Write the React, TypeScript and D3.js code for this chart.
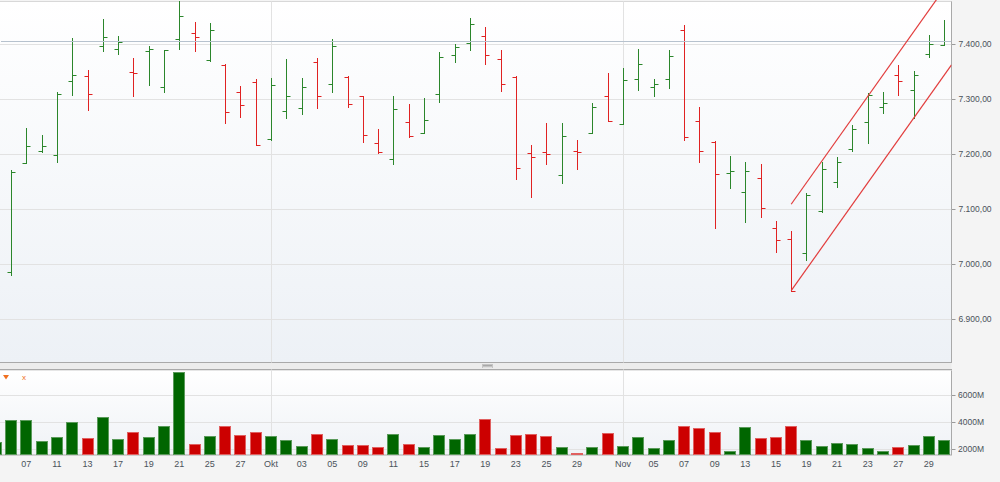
import React from "react";
import * as d3 from "d3";

// trading days shown, Sept 5 is only half visible at the left edge
const dates = [
  "2012-09-05", "2012-09-06", "2012-09-07", "2012-09-10", "2012-09-11", "2012-09-12", "2012-09-13", "2012-09-14",
  "2012-09-17", "2012-09-18", "2012-09-19", "2012-09-20", "2012-09-21", "2012-09-24", "2012-09-25", "2012-09-26",
  "2012-09-27", "2012-09-28", "2012-10-01", "2012-10-02", "2012-10-03", "2012-10-04", "2012-10-05", "2012-10-08",
  "2012-10-09", "2012-10-10", "2012-10-11", "2012-10-12", "2012-10-15", "2012-10-16", "2012-10-17", "2012-10-18",
  "2012-10-19", "2012-10-22", "2012-10-23", "2012-10-24", "2012-10-25", "2012-10-26", "2012-10-29", "2012-10-30",
  "2012-10-31", "2012-11-01", "2012-11-02", "2012-11-05", "2012-11-06", "2012-11-07", "2012-11-08", "2012-11-09",
  "2012-11-12", "2012-11-13", "2012-11-14", "2012-11-15", "2012-11-16", "2012-11-19", "2012-11-20", "2012-11-21",
  "2012-11-22", "2012-11-23", "2012-11-26", "2012-11-27", "2012-11-28", "2012-11-29", "2012-11-30",
];

const open = [
  6950, 6985, 7184, 7206, 7198, 7332, 7342, 7397, 7391, 7350, 7388, 7322, 7409, 7420, 7371, 7362,
  7313, 7331, 7228, 7279, 7284, 7368, 7328, 7340, 7306, 7220, 7191, 7259, 7238, 7309, 7380, 7402,
  7414, 7373, 7340, 7202, 7204, 7162, 7205, 7239, 7305, 7254, 7336, 7322, 7336, 7425, 7260, 7222,
  7165, 7131, 7156, 7065, 7046, 7021, 7096, 7149, 7210, 7258, 7286, 7343, 7317, 7382, 7399,
];
const high = [
  6995, 7172, 7248, 7234, 7312, 7410, 7353, 7446, 7414, 7374, 7396, 7390, 7479, 7440, 7438, 7364,
  7324, 7337, 7338, 7373, 7339, 7374, 7409, 7341, 7306, 7245, 7305, 7291, 7302, 7386, 7400, 7447,
  7430, 7390, 7342, 7216, 7256, 7257, 7225, 7293, 7347, 7356, 7391, 7337, 7390, 7435, 7286, 7223,
  7196, 7185, 7182, 7079, 7060, 7130, 7186, 7194, 7253, 7311, 7313, 7361, 7351, 7417, 7443,
];
const low = [
  6940, 6980, 7183, 7204, 7186, 7307, 7280, 7388, 7382, 7305, 7326, 7313, 7391, 7388, 7370, 7256,
  7268, 7216, 7226, 7266, 7273, 7284, 7313, 7286, 7222, 7202, 7182, 7232, 7238, 7294, 7368, 7390,
  7364, 7314, 7155, 7122, 7182, 7148, 7173, 7239, 7260, 7254, 7316, 7305, 7320, 7226, 7185, 7065,
  7139, 7076, 7085, 7023, 6952, 7008, 7094, 7141, 7205, 7220, 7274, 7308, 7265, 7377, 7398,
];
const close = [
  6975, 7168, 7215, 7215, 7310, 7343, 7310, 7413, 7404, 7347, 7391, 7389, 7451, 7413, 7425, 7276,
  7289, 7216, 7326, 7306, 7322, 7305, 7397, 7291, 7235, 7204, 7282, 7233, 7262, 7376, 7394, 7437,
  7380, 7328, 7174, 7194, 7200, 7233, 7203, 7285, 7260, 7334, 7364, 7327, 7379, 7232, 7205, 7164,
  7170, 7170, 7102, 7044, 6952, 7125, 7173, 7185, 7245, 7308, 7293, 7333, 7343, 7400, 7405,
];
// volume in millions
const volume = [
  2560, 4158, 4158, 2634, 2928, 3989, 2855, 4357, 2781, 3297, 2884, 3716, 7672, 2413, 2958, 3716,
  3053, 3252, 2958, 2663, 2221, 3105, 2781, 2295, 2317, 2192, 3105, 2413, 2170, 3053, 2781, 3105,
  4232, 2074, 3076, 3127, 2980, 2192, 1705, 2170, 3179, 2265, 2884, 2074, 2707, 3716, 3591, 3297,
  1875, 3643, 2832, 2928, 3738, 2685, 2265, 2486, 2390, 2074, 1897, 2170, 2317, 2980, 2663,
];

const priceTicks = [6900, 7000, 7100, 7200, 7300, 7400];
const volumeTicks = [2000, 4000, 6000];
const xTickDates = [
  "2012-09-07", "2012-09-11", "2012-09-13", "2012-09-17", "2012-09-19", "2012-09-21", "2012-09-25", "2012-09-27",
  "2012-10-01", "2012-10-03", "2012-10-05", "2012-10-09", "2012-10-11", "2012-10-15", "2012-10-17", "2012-10-19",
  "2012-10-23", "2012-10-25", "2012-10-29", "2012-11-01", "2012-11-05", "2012-11-07", "2012-11-09", "2012-11-13",
  "2012-11-15", "2012-11-19", "2012-11-21", "2012-11-23", "2012-11-27", "2012-11-29",
];
const monthNames = ["Jan", "Feb", "Mär", "Apr", "Mai", "Jun", "Jul", "Aug", "Sep", "Okt", "Nov", "Dez"];

// trend channel drawn from the Nov 16 low
const channelFrom = "2012-11-16";
const channelLower = [6952, 7362];
const channelUpper = [7109, 7519];

const W = 1000;
const H = 482;
const PLOT_RIGHT = 951.5;
const MAIN_TOP = 1.5;
const MAIN_BOTTOM = 362.5;
const VOL_TOP = 369.5;
const VOL_BOTTOM = 455;
const TICK = 4;

const GREEN = "#2b862b";
const RED = "#e02222";
const FONT = "'Liberation Sans', Arial, sans-serif";
const LABEL = "#4a525a";

const de = d3.formatLocale({ decimal: ",", thousands: ".", grouping: [3], currency: ["", " €"] });
const fmtPrice = de.format(",.2f");
const parse = d3.timeParse("%Y-%m-%d");

const crisp = (v: number) => Math.round(v) + 0.5;

export default function App() {
  const parsed = dates.map((d) => parse(d)!);
  const idxOf = (d: string) => dates.indexOf(d);
  const lastIdx = dates.length - 1;

  const xEnd = lastIdx + 0.48;
  const x = d3.scaleLinear().domain([0.28, xEnd]).range([0, PLOT_RIGHT]);
  const y = d3.scaleLinear().domain([6900, 7400]).range([319.3, 44]);
  const yv = d3.scaleLinear().domain([1580, 7840]).range([VOL_BOTTOM, VOL_TOP]);

  const step = x(1) - x(0);
  const barW = Math.round(step * 0.76);

  const monthStarts = dates
    .map((d, i) => (i > 0 && parsed[i].getMonth() !== parsed[i - 1].getMonth() ? d : null))
    .filter(Boolean);
  const tickLabel = (d: string) => {
    const t = parse(d)!;
    return monthStarts.includes(d) ? monthNames[t.getMonth()] : d3.timeFormat("%d")(t);
  };

  const ch0 = idxOf(channelFrom);
  const channelLine = d3
    .line<[number, number]>()
    .x((p) => x(p[0]))
    .y((p) => y(p[1]));

  const vLines = monthStarts.map((d) => crisp(x(idxOf(d as string))));

  return (
    <div style={{ position: "absolute", left: 0, top: 0 }}>
      <svg width={W} height={H} style={{ display: "block", fontFamily: FONT }}>
        <defs>
          <linearGradient id="mainBg" x1="0" y1="0" x2="0" y2="1">
            <stop offset="0" stopColor="#ffffff" />
            <stop offset="1" stopColor="#edf1f6" />
          </linearGradient>
          <linearGradient id="volBg" x1="0" y1="0" x2="0" y2="1">
            <stop offset="0" stopColor="#ffffff" />
            <stop offset="1" stopColor="#eff2f6" />
          </linearGradient>
          <clipPath id="mainClip">
            <rect x={1} y={0} width={PLOT_RIGHT - 1} height={MAIN_BOTTOM} />
          </clipPath>
          <clipPath id="volClip">
            <rect x={0} y={VOL_TOP} width={PLOT_RIGHT} height={VOL_BOTTOM - VOL_TOP} />
          </clipPath>
        </defs>

        <rect x={0} y={0} width={W} height={H} fill="#f4f4f4" />

        {/* price panel */}
        <rect x={-1} y={MAIN_TOP} width={PLOT_RIGHT + 1} height={MAIN_BOTTOM - MAIN_TOP} fill="url(#mainBg)" stroke="#a9a9a9" />
        <line x1={0} x2={PLOT_RIGHT} y1={MAIN_TOP} y2={MAIN_TOP} stroke="#d8d8d8" />
        {priceTicks.map((v) => (
          <g key={v}>
            <line x1={0} x2={PLOT_RIGHT} y1={crisp(y(v))} y2={crisp(y(v))} stroke="#e2e2e2" />
            <line x1={PLOT_RIGHT} x2={PLOT_RIGHT + TICK} y1={crisp(y(v))} y2={crisp(y(v))} stroke="#9a9a9a" />
            <text x={958.5} y={y(v)} dy="0.35em" fontSize={8.5} fill={LABEL}>
              {fmtPrice(v)}
            </text>
          </g>
        ))}
        {vLines.map((vx) => (
          <line key={vx} x1={vx} x2={vx} y1={MAIN_TOP} y2={MAIN_BOTTOM} stroke="#e2e2e2" />
        ))}

        <g clipPath="url(#mainClip)">
          {dates.map((d, i) => {
            const cx = crisp(x(i));
            const color = close[i] >= open[i] ? GREEN : RED;
            return (
              <g key={d} stroke={color} strokeWidth={1}>
                <line x1={cx} x2={cx} y1={Math.round(y(high[i]))} y2={Math.round(y(low[i])) + 1} />
                <line x1={cx - TICK} x2={cx} y1={crisp(y(open[i]))} y2={crisp(y(open[i]))} />
                <line x1={cx} x2={cx + TICK} y1={crisp(y(close[i]))} y2={crisp(y(close[i]))} />
              </g>
            );
          })}
          {/* last price line */}
          <line
            x1={0}
            x2={PLOT_RIGHT}
            y1={crisp(y(close[lastIdx]))}
            y2={crisp(y(close[lastIdx]))}
            stroke="#b7c2ce"
          />
          <path d={channelLine([[ch0, channelLower[0]], [xEnd, channelLower[1]]])!} stroke="#e23c3c" strokeWidth={1.2} fill="none" />
          <path d={channelLine([[ch0, channelUpper[0]], [xEnd, channelUpper[1]]])!} stroke="#e23c3c" strokeWidth={1.2} fill="none" />
        </g>

        {/* splitter */}
        <rect x={0} y={MAIN_BOTTOM + 0.5} width={PLOT_RIGHT} height={VOL_TOP - MAIN_BOTTOM - 1} fill="#ececec" />
        <rect x={482} y={364} width={11} height={4} fill="#c4c4c4" />
        <line x1={483} x2={492} y1={365.5} y2={365.5} stroke="#a8a8a8" />
        <line x1={483} x2={492} y1={367.5} y2={367.5} stroke="#e0e0e0" />

        {/* volume panel */}
        <rect x={-1} y={VOL_TOP} width={PLOT_RIGHT + 1} height={VOL_BOTTOM - VOL_TOP} fill="url(#volBg)" stroke="#a9a9a9" />
        <line x1={0} x2={PLOT_RIGHT} y1={VOL_TOP + 1} y2={VOL_TOP + 1} stroke="#e6e6e6" />
        {volumeTicks.map((v) => (
          <g key={v}>
            <line x1={0} x2={PLOT_RIGHT} y1={crisp(yv(v))} y2={crisp(yv(v))} stroke="#e2e2e2" />
            <line x1={PLOT_RIGHT} x2={PLOT_RIGHT + TICK} y1={crisp(yv(v))} y2={crisp(yv(v))} stroke="#9a9a9a" />
            <text x={958} y={yv(v)} dy="0.35em" fontSize={8.5} fill={LABEL}>
              {v}M
            </text>
          </g>
        ))}
        {vLines.map((vx) => (
          <line key={vx} x1={vx} x2={vx} y1={VOL_TOP} y2={VOL_BOTTOM} stroke="#e2e2e2" />
        ))}
        <g clipPath="url(#volClip)">
          {dates.map((d, i) => {
            const up = close[i] >= open[i];
            const top = Math.round(yv(volume[i]));
            return (
              <rect
                key={d}
                x={Math.round(x(i) - barW / 2) + 0.5}
                y={top + 0.5}
                width={barW - 1}
                height={VOL_BOTTOM - top - 1}
                fill={up ? "#006600" : "#cc0000"}
                stroke={up ? "#5a9a5a" : "#e06060"}
              />
            );
          })}
        </g>
        <path d="M3,375 L9,375 L6,379.5 Z" fill="#f07020" />
        <text x={24} y={377} dy="0.35em" fontSize={8} fill="#f07020" textAnchor="middle">
          x
        </text>

        {/* date axis */}
        {xTickDates.map((d) => (
          <text key={d} x={x(idxOf(d))} y={464} dy="0.35em" fontSize={9} fill={LABEL} textAnchor="middle">
            {tickLabel(d)}
          </text>
        ))}
      </svg>
    </div>
  );
}
